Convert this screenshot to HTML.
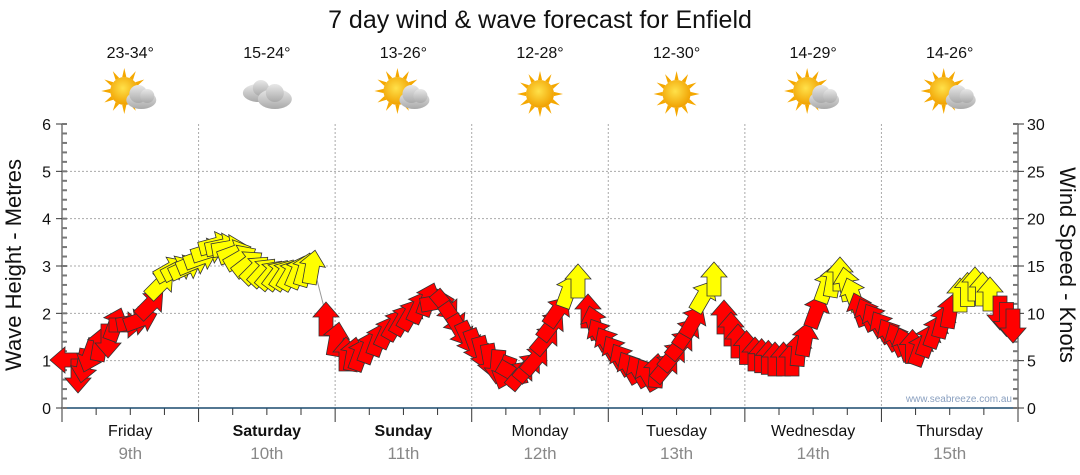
<!DOCTYPE html>
<html><head><meta charset="utf-8"><style>
html,body{margin:0;padding:0;background:#fff;}
svg{display:block;font-family:"Liberation Sans",sans-serif;}
</style></head><body>
<svg id="s" width="1080" height="475" xmlns="http://www.w3.org/2000/svg">
<defs>
<filter id="sh" x="-20%" y="-20%" width="140%" height="160%"><feGaussianBlur stdDeviation="5"/></filter>
<radialGradient id="sun" cx="45%" cy="40%" r="60%"><stop offset="0" stop-color="#ffe14a"/><stop offset="1" stop-color="#f0a000"/></radialGradient>
<linearGradient id="cl" x1="0" y1="0" x2="0" y2="1"><stop offset="0" stop-color="#e8e8e8"/><stop offset="1" stop-color="#a9a9a9"/></linearGradient>
</defs>
<text x="540" y="28" font-size="25" text-anchor="middle" fill="#111">7 day wind &amp; wave forecast for Enfield</text>
<g id="grid"></g>
<g id="sh" filter="url(#sh)" opacity="0.3"></g>
<g id="arr"></g>
<text x="1012" y="402" font-size="10" fill="#8aa0c0" text-anchor="end">www.seabreeze.com.au</text>
</svg>
<script>
const s=document.getElementById('s'),g=document.getElementById('grid'),A=document.getElementById('arr'),SH=document.getElementById('sh');
const NS='http://www.w3.org/2000/svg';
function el(p,t,a,txt){const e=document.createElementNS(NS,t);for(const k in a)e.setAttribute(k,a[k]);if(txt!==undefined)e.textContent=txt;p.appendChild(e);return e;}
const L=62,R=1018,T=124,B=408,H=B-T;
for(let i=1;i<=5;i++){const y=B-i*H/6;el(g,'line',{x1:L,x2:R,y1:y,y2:y,stroke:'#aaa','stroke-dasharray':'2,2'});}
const days=['Friday','Saturday','Sunday','Monday','Tuesday','Wednesday','Thursday'],dates=['9th','10th','11th','12th','13th','14th','15th'];
const dw=(R-L)/7;
for(let d=1;d<7;d++){const x=L+d*dw;el(g,'line',{x1:x,x2:x,y1:T,y2:B,stroke:'#aaa','stroke-dasharray':'2,2'});}
for(let d=0;d<7;d++){const cx=L+d*dw+dw/2;
 el(g,'text',{x:cx,y:436,'font-size':16,'text-anchor':'middle',fill:'#111','font-weight':(d==1||d==2)?'bold':'normal'},days[d]);
 el(g,'text',{x:cx,y:459,'font-size':17,'text-anchor':'middle',fill:'#888'},dates[d]);
 for(let q=0;q<4;q++){const x=L+d*dw+q*dw/4;el(g,'line',{x1:x,x2:x,y1:B,y2:B+(q==0?14:7),stroke:'#333'});}
}
el(g,'line',{x1:R,x2:R,y1:B,y2:B+14,stroke:'#333'});
el(g,'line',{x1:L,x2:R,y1:B,y2:B,stroke:'#1a4a6e','stroke-width':1.5});
el(g,'line',{x1:L,x2:L,y1:T,y2:B,stroke:'#333'});
el(g,'line',{x1:R,x2:R,y1:T,y2:B,stroke:'#333'});
for(let i=0;i<=30;i++){const y=B-i*H/30;
 el(g,'line',{x1:L,x2:L+5,y1:y,y2:y,stroke:'#777','stroke-width':2});
 el(g,'line',{x1:R-5,x2:R,y1:y,y2:y,stroke:'#777','stroke-width':2});
}
for(let i=0;i<=6;i++){const y=B-i*H/6;el(g,'line',{x1:L-6,x2:L,y1:y,y2:y,stroke:'#333'});el(g,'text',{x:L-11,y:y+6,'font-size':16,'text-anchor':'end',fill:'#111'},i);}
for(let i=0;i<=30;i+=5){const y=B-i*H/30;el(g,'line',{x1:R,x2:R+6,y1:y,y2:y,stroke:'#333'});el(g,'text',{x:R+9,y:y+6,'font-size':16,fill:'#111'},i);}
el(g,'text',{x:0,y:0,'font-size':22,'text-anchor':'middle',fill:'#111',transform:'translate(21,265) rotate(-90)'},'Wave Height - Metres');
el(g,'text',{x:0,y:0,'font-size':22,'text-anchor':'middle',fill:'#111',transform:'translate(1060,265) rotate(90)'},'Wind Speed - Knots');
const temps=['23-34°','15-24°','13-26°','12-28°','12-30°','14-29°','14-26°'],kind=[1,2,1,0,0,1,1];
for(let d=0;d<7;d++){const cx=L+d*dw+dw/2;
 el(g,'text',{x:cx,y:58,'font-size':16,'text-anchor':'middle',fill:'#111'},temps[d]);
 const W=el(g,'g',{transform:`translate(${cx},94)`});
 if(kind[d]!=2){const sx=kind[d]==0?0:-6,sy=kind[d]==0?0:-3;
  for(let k=0;k<12;k++){const a=k*Math.PI/6;el(W,'polygon',{points:`${sx+Math.cos(a-0.15)*14},${sy+Math.sin(a-0.15)*14} ${sx+Math.cos(a)*23},${sy+Math.sin(a)*23} ${sx+Math.cos(a+0.15)*14},${sy+Math.sin(a+0.15)*14}`,fill:'#f5a800'});}
  el(W,'circle',{cx:sx,cy:sy,r:14,fill:'url(#sun)'});}
 if(kind[d]==1){el(W,'ellipse',{cx:11,cy:6,rx:15,ry:9,fill:'url(#cl)'});el(W,'circle',{cx:8,cy:0,r:9,fill:'url(#cl)'});el(W,'circle',{cx:17,cy:2,r:7,fill:'url(#cl)'});}
 if(kind[d]==2){el(W,'ellipse',{cx:-8,cy:-1,rx:16,ry:9,fill:'url(#cl)'});el(W,'circle',{cx:-6,cy:-6,r:8,fill:'url(#cl)'});
  el(W,'ellipse',{cx:8,cy:5,rx:17,ry:10,fill:'url(#cl)'});el(W,'circle',{cx:8,cy:-1,r:9,fill:'url(#cl)'});}
}
const K=[[68,360,270,0],[78,375,180,0],[90,355,200,0],[100,345,10,0],[108,340,180,0],[115,325,20,0],[125,325,90,0],[140,320,70,0],[150,305,45,0],
[160,285,45,1],[170,270,60,1],[185,268,65,1],[200,258,70,1],[215,245,75,1],[228,248,80,1],[240,258,60,1],[255,270,45,1],[270,275,40,1],[290,275,30,1],[312,268,10,1],
[326,320,0,0],[336,340,10,0],[346,355,0,0],[360,355,20,0],[378,340,20,0],[395,325,30,0],[410,315,30,0],[428,300,20,0],[445,305,140,0],[460,330,150,0],[475,345,160,0],[490,360,170,0],[505,372,200,0],[520,375,40,0],[535,360,40,0],[545,340,40,0],[557,312,35,0],
[568,292,20,1],[578,282,0,1],[588,312,0,0],[600,335,330,0],[615,352,330,0],[630,368,330,0],[648,375,330,0],[665,368,40,0],[680,345,40,0],[693,322,30,0],
[703,297,30,1],[714,280,0,1],[724,318,0,0],[738,342,0,0],[755,355,0,0],[775,360,0,0],[792,360,0,0],[805,340,10,0],[816,312,20,0],
[826,287,20,1],[840,275,0,1],[853,295,340,1],[860,310,340,0],[875,320,330,0],[890,335,330,0],[905,345,340,0],[920,350,20,0],[935,332,20,0],[950,312,10,0],
[960,296,0,1],[975,285,0,1],[990,295,0,1],[1000,312,180,0],[1013,325,180,0]];
const pts=[];
for(let i=0;i<K.length-1;i++){const a=K[i],b=K[i+1];const n=Math.max(1,Math.round((b[0]-a[0])/8));
 if(i==19){pts.push(a);el(g,'line',{x1:a[0]+4,y1:a[1]+8,x2:b[0],y2:b[1]-5,stroke:'#999'});continue;}
 for(let j=0;j<n;j++){const t=j/n;let da=b[2]-a[2];if(da>180)da-=360;if(da<-180)da+=360;
  pts.push([a[0]+(b[0]-a[0])*t,a[1]+(b[1]-a[1])*t,a[2]+da*t,t<0.5?a[3]:b[3]]);}}
pts.push(K[K.length-1]);
const shape='M0,-18 L13,-3 L7,-3 L7,16 L-7,16 L-7,-3 L-13,-3 Z';
for(const p of pts){el(SH,'path',{d:shape,transform:`translate(${p[0]+4},${p[1]+14}) rotate(${p[2]})`,fill:'#000'});}
for(const p of pts){el(A,'path',{d:shape,transform:`translate(${p[0]},${p[1]}) rotate(${p[2]})`,fill:p[3]?'#ffff00':'#ff0000',stroke:'#333','stroke-width':0.8});}
</script>
</body></html>
